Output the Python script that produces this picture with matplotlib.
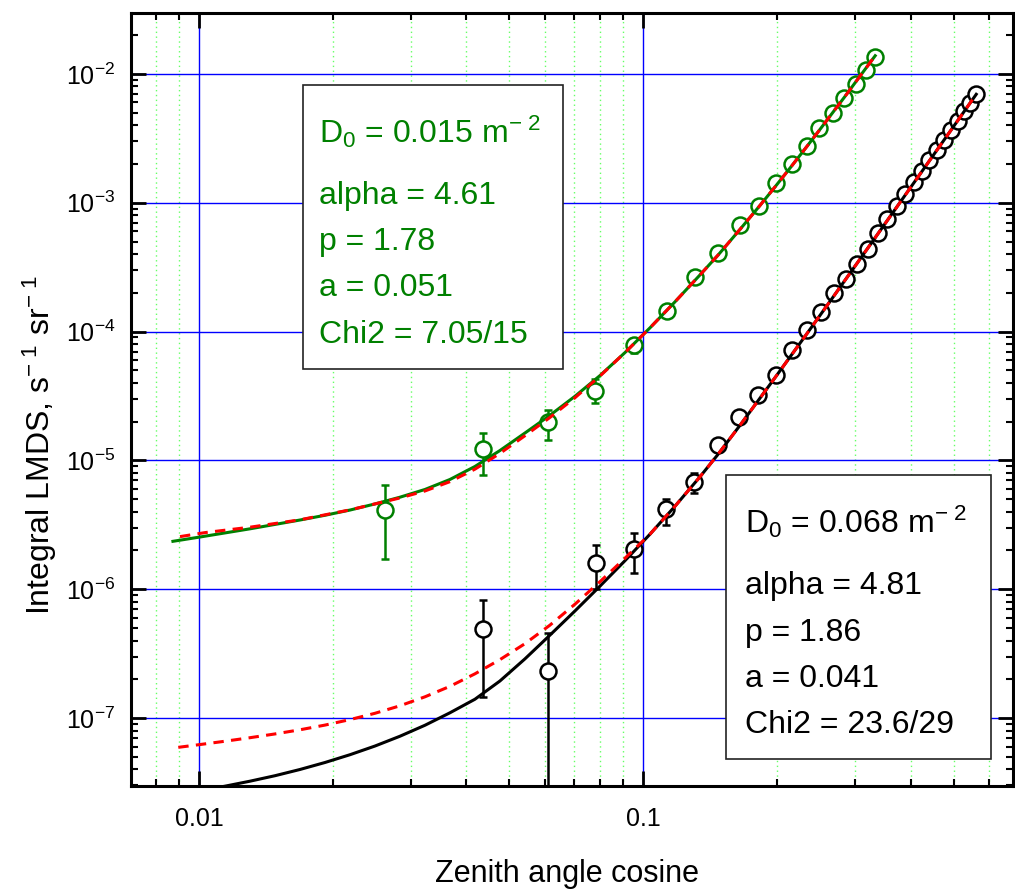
import matplotlib
matplotlib.use('Agg')
import matplotlib.pyplot as plt
from matplotlib.patches import Rectangle
from matplotlib.ticker import LogLocator, NullFormatter, FixedLocator, FixedFormatter

plt.rcParams['font.family'] = ['Liberation Sans', 'DejaVu Sans']
plt.rcParams['mathtext.fontset'] = 'custom'
plt.rcParams['mathtext.rm'] = 'Liberation Sans'
plt.rcParams['mathtext.it'] = 'Liberation Sans:italic'
plt.rcParams['mathtext.bf'] = 'Liberation Sans:bold'

# green data set (points + error bar ends)
g_x = [0.0262, 0.0436, 0.0609, 0.0780, 0.0954, 0.1129, 0.1307, 0.1475, 0.1651, 0.1822,
       0.1989, 0.2158, 0.2332, 0.2489, 0.2668, 0.2835, 0.3006, 0.3171, 0.3329]
g_y = [4.10e-6, 1.22e-5, 1.98e-5, 3.46e-5, 7.83e-5, 1.455e-4, 2.64e-4, 4.06e-4, 6.75e-4, 9.36e-4,
       1.42e-3, 2.01e-3, 2.77e-3, 3.79e-3, 4.96e-3, 6.48e-3, 8.32e-3, 1.074e-2, 1.35e-2]
g_lo = [1.71e-6, 7.69e-6, 1.44e-5, 2.77e-5, 6.84e-5, 1.33e-4, 2.43e-4, 3.77e-4, 6.30e-4, 8.8e-4,
        1.34e-3, 1.91e-3, 2.64e-3, 3.62e-3, 4.75e-3, 6.22e-3, 8.0e-3, 1.035e-2, 1.30e-2]
g_hi = [6.40e-6, 1.64e-5, 2.48e-5, 4.3e-5, 8.9e-5, 1.58e-4, 2.85e-4, 4.35e-4, 7.20e-4, 9.9e-4,
        1.50e-3, 2.11e-3, 2.90e-3, 3.96e-3, 5.17e-3, 6.74e-3, 8.64e-3, 1.113e-2, 1.40e-2]

# black data set
b_x = [0.0436, 0.0609, 0.0782, 0.0955, 0.1127, 0.1300, 0.1473, 0.1646, 0.1818, 0.1991,
       0.2164, 0.2337, 0.2509, 0.2682, 0.2855, 0.3028, 0.3200, 0.3373, 0.3546, 0.3719,
       0.3891, 0.4064, 0.4237, 0.4410, 0.4582, 0.4755, 0.4928, 0.5101, 0.5273, 0.5446, 0.5619]
b_y = [4.90e-7, 2.33e-7, 1.61e-6, 2.07e-6, 4.17e-6, 6.84e-6, 1.315e-5, 2.17e-5, 3.21e-5, 4.59e-5,
       7.25e-5, 1.037e-4, 1.41e-4, 2.0e-4, 2.56e-4, 3.37e-4, 4.4e-4, 5.83e-4, 7.43e-4, 9.38e-4,
       1.168e-3, 1.442e-3, 1.764e-3, 2.14e-3, 2.585e-3, 3.09e-3, 3.67e-3, 4.345e-3, 5.11e-3, 5.97e-3, 6.94e-3]
b_lo = [1.455e-7, 1e-10, 1.0e-6, 1.346e-6, 3.13e-6, 5.62e-6, 1.17e-5, 1.96e-5, 2.95e-5, 4.27e-5,
        6.85e-5, 0.985e-4, 1.34e-4, 1.91e-4, 2.45e-4, 3.23e-4, 4.23e-4, 5.61e-4, 7.16e-4, 9.05e-4,
        1.128e-3, 1.394e-3, 1.707e-3, 2.072e-3, 2.505e-3, 2.996e-3, 3.562e-3, 4.22e-3, 4.965e-3, 5.80e-3, 6.75e-3]
b_hi = [8.22e-7, 4.61e-7, 2.19e-6, 2.72e-6, 5.05e-6, 8.03e-6, 1.46e-5, 2.38e-5, 3.47e-5, 4.91e-5,
        7.65e-5, 1.089e-4, 1.48e-4, 2.09e-4, 2.67e-4, 3.51e-4, 4.57e-4, 6.05e-4, 7.70e-4, 9.71e-4,
        1.208e-3, 1.490e-3, 1.821e-3, 2.208e-3, 2.665e-3, 3.184e-3, 3.778e-3, 4.47e-3, 5.255e-3, 6.14e-3, 7.13e-3]

# fit curves
gfit_x = [0.008738, 0.010052, 0.013024, 0.016877, 0.019212, 0.021873, 0.024896, 0.02834, 0.032262, 0.036724,
          0.041805, 0.047589, 0.054175, 0.06166, 0.070194, 0.079898, 0.090955, 0.10353, 0.11785, 0.13418,
          0.14755, 0.1651, 0.1822, 0.1989, 0.2158, 0.2332, 0.2489, 0.2668, 0.2835, 0.3006, 0.3171, 0.3329]
gfit_y = [2.355e-6, 2.543e-6, 2.944e-6, 3.445e-6, 3.750e-6, 4.117e-6, 4.592e-6, 5.180e-6, 5.948e-6, 7.110e-6,
          8.97e-6, 1.193e-5, 1.631e-5, 2.239e-5, 3.143e-5, 4.549e-5, 6.86e-5, 1.067e-4, 1.698e-4, 2.748e-4,
          3.937e-4, 6.20e-4, 9.31e-4, 1.352e-3, 1.925e-3, 2.712e-3, 3.634e-3, 4.985e-3, 6.565e-3, 8.623e-3, 1.105e-2, 1.384e-2]
gred_x = [0.009063, 0.010316, 0.013024, 0.016877, 0.021873, 0.02834, 0.032262, 0.036724, 0.041805, 0.047589,
          0.054175, 0.06166, 0.070194, 0.079898, 0.090955, 0.10353, 0.11785, 0.13418, 0.14755, 0.1651,
          0.1822, 0.1989, 0.2158, 0.2332, 0.2489, 0.2668, 0.2835, 0.3006, 0.3171, 0.3329]
gred_y = [2.561e-6, 2.751e-6, 3.03e-6, 3.458e-6, 4.132e-6, 5.111e-6, 5.79e-6, 6.84e-6, 8.55e-6, 1.1335e-5,
          1.554e-5, 2.154e-5, 3.062e-5, 4.51e-5, 6.86e-5, 1.067e-4, 1.698e-4, 2.748e-4, 3.937e-4, 6.20e-4,
          9.31e-4, 1.352e-3, 1.925e-3, 2.712e-3, 3.634e-3, 4.985e-3, 6.565e-3, 8.623e-3, 1.105e-2, 1.384e-2]
bfit_x = [0.008738, 0.010052, 0.011442, 0.013024, 0.014827, 0.016877, 0.019212, 0.021873, 0.024896, 0.02834,
          0.032262, 0.036724, 0.041805, 0.047589, 0.054175, 0.06166, 0.070194, 0.079898, 0.090955, 0.10353,
          0.11785, 0.13418, 0.1471, 0.16509, 0.19861, 0.23236, 0.26686, 0.31995, 0.42398, 0.56205]
bfit_y = [2.530e-8, 2.731e-8, 2.960e-8, 3.236e-8, 3.569e-8, 3.989e-8, 4.519e-8, 5.194e-8, 6.065e-8, 7.227e-8,
          8.793e-8, 1.099e-7, 1.40e-7, 1.94e-7, 2.88e-7, 4.40e-7, 6.776e-7, 1.055e-6, 1.663e-6, 2.669e-6,
          4.399e-6, 7.449e-6, 1.105e-5, 1.867e-5, 4.446e-5, 9.38e-5, 1.828e-4, 4.416e-4, 1.748e-3, 6.947e-3]
bred_x = [0.008984, 0.010052, 0.011442, 0.013024, 0.014827, 0.016877, 0.019212, 0.021873, 0.024896, 0.02834,
          0.032262, 0.036724, 0.041805, 0.047589, 0.054175, 0.06166, 0.070194, 0.079898, 0.090955, 0.10353,
          0.11785, 0.13418, 0.1471, 0.16509, 0.19861, 0.23236, 0.26686, 0.31995, 0.42398, 0.56205]
bred_y = [5.927e-8, 6.23e-8, 6.61e-8, 7.04e-8, 7.53e-8, 8.11e-8, 8.82e-8, 9.73e-8, 1.089e-7, 1.245e-7,
          1.462e-7, 1.763e-7, 2.205e-7, 2.841e-7, 3.779e-7, 5.259e-7, 7.65e-7, 1.143e-6, 1.739e-6, 2.669e-6,
          4.399e-6, 7.449e-6, 1.105e-5, 1.867e-5, 4.446e-5, 9.38e-5, 1.828e-4, 4.416e-4, 1.748e-3, 6.947e-3]

xticks = [0.01, 0.1]
xtick_labels = ['0.01', '0.1']
yticks = [1e-7, 1e-6, 1e-5, 1e-4, 1e-3, 1e-2]
ytick_labels = ['10$^{-7}$', '10$^{-6}$', '10$^{-5}$', '10$^{-4}$', '10$^{-3}$', '10$^{-2}$']

green_box = ['D$_0$ = 0.015 m$^{-\\ 2}$', 'alpha = 4.61', 'p = 1.78', 'a = 0.051', 'Chi2 = 7.05/15']
black_box = ['D$_0$ = 0.068 m$^{-\\ 2}$', 'alpha = 4.81', 'p = 1.86', 'a = 0.041', 'Chi2 = 23.6/29']

GREEN = '#008000'
W, H = 1015, 893

fig = plt.figure(figsize=(W / 100, H / 100), dpi=100)
ax = fig.add_axes([130.7 / W, 1 - 786 / H, (1013 - 130.7) / W, (786 - 13) / H])
ax.set_xscale('log')
ax.set_yscale('log')
ax.set_xlim(0.00702, 0.68)
ax.set_ylim(2.97e-8, 2.97e-2)

# ticks and grids
ax.set_axisbelow(True)
ax.xaxis.set_major_locator(FixedLocator(xticks))
ax.xaxis.set_major_formatter(FixedFormatter(xtick_labels))
ax.xaxis.set_minor_locator(LogLocator(base=10, subs=range(2, 10), numticks=20))
ax.xaxis.set_minor_formatter(NullFormatter())
ax.yaxis.set_major_locator(FixedLocator(yticks))
ax.yaxis.set_major_formatter(FixedFormatter(ytick_labels))
ax.yaxis.set_minor_locator(LogLocator(base=10, subs=range(2, 10), numticks=20))
ax.yaxis.set_minor_formatter(NullFormatter())
ax.grid(True, which='major', color='#0000ff', lw=1.0, ls='-')
ax.xaxis.grid(True, which='minor', color='#66ff66', lw=1.0, ls=(0, (1, 2.5)))

for s in ax.spines.values():
    s.set_linewidth(2.2)
ax.tick_params(which='both', direction='in', top=True, right=True, colors='black')
ax.tick_params(which='major', length=10.5, width=2)
ax.tick_params(which='minor', length=5, width=1.5)
ax.tick_params(axis='x', which='major', labelsize=18, pad=15)
ax.tick_params(axis='y', which='major', labelsize=18, pad=11)

# data with error bars
g_err = [[y - lo for y, lo in zip(g_y, g_lo)], [hi - y for y, hi in zip(g_y, g_hi)]]
b_err = [[y - lo for y, lo in zip(b_y, b_lo)], [hi - y for y, hi in zip(b_y, b_hi)]]
ax.errorbar(g_x, g_y, yerr=g_err, fmt='none', ecolor=GREEN, elinewidth=1.8, capsize=3.2, capthick=1.8, zorder=3)
ax.errorbar(b_x, b_y, yerr=b_err, fmt='none', ecolor='black', elinewidth=1.8, capsize=3.2, capthick=1.8, zorder=3)
ax.plot(g_x, g_y, 'o', ms=11.5, mfc='white', mec=GREEN, mew=1.8, zorder=4)
ax.plot(b_x, b_y, 'o', ms=11.5, mfc='white', mec='black', mew=1.8, zorder=4)

# fit curves
ax.plot(gfit_x, gfit_y, color=GREEN, lw=2.2, zorder=5)
ax.plot(bfit_x, bfit_y, color='black', lw=2.2, zorder=5)
ax.plot(gred_x, gred_y, color='#ff0000', lw=2.2, dashes=(3.4, 2.4), zorder=6)
ax.plot(bred_x, bred_y, color='#ff0000', lw=2.2, dashes=(3.4, 2.4), zorder=6)

# parameter boxes
def add_box(x0, y0, x1, y1, lines, color, tx, baselines):
    rect = Rectangle((x0 / W, 1 - y1 / H), (x1 - x0) / W, (y1 - y0) / H, transform=fig.transFigure,
                     facecolor='white', edgecolor='#222222', lw=1.2, zorder=10)
    fig.patches.append(rect)
    for line, by in zip(lines, baselines):
        fig.text(tx / W, 1 - by / H, line, color=color, fontsize=23, ha='left', va='baseline', zorder=11)

add_box(302.7, 84.7, 562.7, 368.7, green_box, GREEN, 319, [143, 204, 250, 296, 343])
add_box(726, 475, 991.3, 759, black_box, 'black', 745, [533, 594, 640.7, 687.3, 733.3])

fig.text(567 / W, 1 - 874 / H, 'Zenith angle cosine', fontsize=22, ha='center', va='center')
fig.text(40 / W, 1 - 445 / H, 'Integral LMDS, s$^{-\\ 1}$ sr$^{-\\ 1}$', fontsize=23,
         rotation=90, ha='center', va='center')

fig.savefig('out.png', dpi=100)
